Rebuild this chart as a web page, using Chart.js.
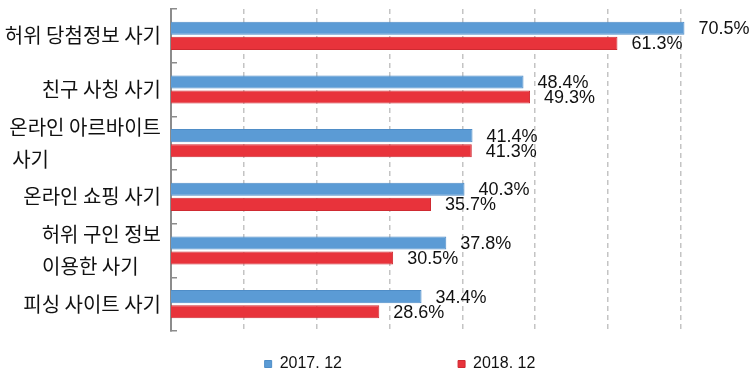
<!DOCTYPE html>
<html>
<head>
<meta charset="utf-8">
<script src="https://cdn.jsdelivr.net/npm/chart.js@4"></script>
<style>
  html, body { margin: 0; background: #fff; }
  #wrap { width: 750px; height: 375px; }
</style>
</head>
<body>
<div id="wrap"><canvas id="c"></canvas></div>
<script>
const categories = [
  ['허위 당첨정보 사기'],
  ['친구 사칭 사기'],
  ['온라인 아르바이트', '사기'],
  ['온라인 쇼핑 사기'],
  ['허위 구인 정보', '이용한 사기'],
  ['피싱 사이트 사기'],
];
const series2017 = [70.5, 48.4, 41.4, 40.3, 37.8, 34.4];
const series2018 = [61.3, 49.3, 41.3, 35.7, 30.5, 28.6];
const seriesNames = ['2017. 12', '2018. 12'];
const xTicks = [10, 20, 30, 40, 50, 60, 70];

const labelFont = '20px "Noto Sans CJK KR"';
const mctx = document.createElement('canvas').getContext('2d');

// right-aligned block, lines left-aligned inside it: pad short lines with spaces
function padLines(lines) {
  if (lines.length < 2) return lines[0];
  mctx.font = labelFont;
  const w = Math.max(...lines.map(l => mctx.measureText(l).width));
  return lines.map(l => {
    while (mctx.measureText(l + ' ').width <= w + 1) l += ' ';
    return l;
  });
}

const valueLabels = {
  id: 'valueLabels',
  afterDatasetsDraw(chart) {
    const ctx = chart.ctx;
    ctx.save();
    ctx.font = '18px "Liberation Sans", Arial, sans-serif';
    ctx.fillStyle = '#111';
    ctx.textBaseline = 'middle';
    chart.data.datasets.forEach((ds, i) => {
      chart.getDatasetMeta(i).data.forEach((bar, j) => {
        ctx.fillText(ds.data[j].toFixed(1) + '%', bar.x + 14, bar.y + 1);
      });
    });
    ctx.restore();
  },
};

// legend sits a bit right of the canvas centre in the original
const legendShift = {
  id: 'legendShift',
  afterLayout(chart) {
    chart.legend.left += 25;
    chart.legend.right += 25;
  },
};

new Chart(document.getElementById('c'), {
  type: 'bar',
  data: {
    labels: categories.map(padLines),
    datasets: [
      { label: seriesNames[0], data: series2017, backgroundColor: '#5b9bd5', borderColor: '#4f8dc7', borderWidth: 1 },
      { label: seriesNames[1], data: series2018, backgroundColor: '#e8333b', borderColor: '#cf2a31', borderWidth: 1 },
    ],
  },
  options: {
    indexAxis: 'y',
    responsive: true, maintainAspectRatio: false, animation: false,
    categoryPercentage: 0.56, barPercentage: 0.87,
    layout: { padding: { top: 9, left: 0, right: 0, bottom: -7 } },
    plugins: {
      tooltip: { enabled: false },
      legend: {
        position: 'bottom',
        labels: {
          boxWidth: 7, boxHeight: 7, padding: 5, color: '#111',
          font: { family: '"Liberation Sans", Arial, sans-serif', size: 16 },
          generateLabels(chart) {
            const items = Chart.defaults.plugins.legend.labels.generateLabels(chart);
            items[0].text += ' '.repeat(25);
            return items;
          },
        },
      },
    },
    scales: {
      x: {
        min: 0, max: 79.5,
        afterBuildTicks(scale) { scale.ticks = xTicks.map(v => ({ value: v })); },
        afterFit(scale) { scale.height = 20; },
        ticks: { display: false },
        border: { display: false, dash: [5, 4] },
        grid: { drawTicks: false, color: '#c4c4c4', lineWidth: 1.5 },
      },
      y: {
        grid: {
          offset: true, drawOnChartArea: false, drawTicks: true, tickLength: -6,
          color: '#8c8c8c', lineWidth: 1.5,
        },
        border: { display: true, color: '#8c8c8c', width: 2 },
        ticks: {
          color: '#111', padding: 16, autoSkip: false,
          font: { family: 'Noto Sans CJK KR', size: 20, lineHeight: 1.6 },
        },
        afterFit(scale) {
          scale.width = 171;
          scale.paddingTop = 0;
          scale.paddingBottom = 0;
        },
      },
    },
  },
  plugins: [valueLabels, legendShift],
});
</script>
</body>
</html>
